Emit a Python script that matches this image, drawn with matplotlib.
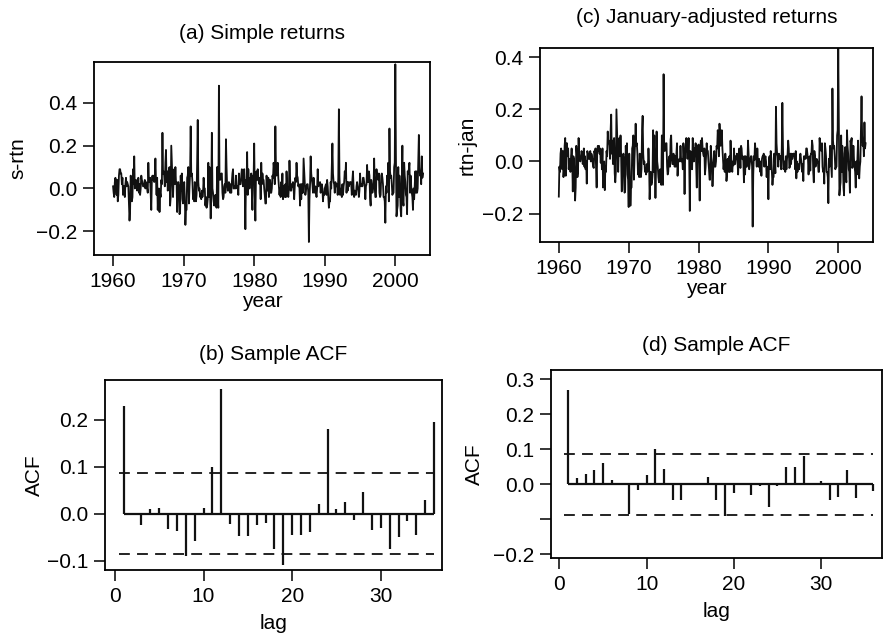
import numpy as np
import matplotlib
matplotlib.use("Agg")
import matplotlib.pyplot as plt

plt.rcParams['font.family'] = ['Liberation Sans', 'DejaVu Sans']

# monthly simple returns, Jan..Dec, one row per year
rtn_1960s = [
    0.01, -0.02, -0.04, 0.03, 0.05, 0.03, -0.03, 0.04, -0.06, -0.03, 0.06, 0.09,    # 1960
    0.09, 0.07, 0.07, 0.02, 0.05, -0.03, 0.01, 0.01, -0.04, 0.02, 0.05, 0.01,       # 1961
    0.03, 0.02, 0.01, -0.07, -0.15, -0.10, 0.06, 0.03, -0.06, -0.04, 0.09, 0.02,    # 1962
    0.15, 0.00, 0.02, 0.04, 0.03, -0.01, 0.00, 0.05, -0.02, 0.02, -0.03, 0.00,      # 1963
    0.06, 0.04, 0.03, 0.01, 0.01, 0.01, 0.04, 0.00, 0.03, 0.02, 0.00, -0.02,        # 1964
    0.12, 0.04, 0.03, 0.05, -0.03, -0.10, 0.04, 0.06, 0.04, 0.06, 0.03, 0.05,       # 1965
    0.14, 0.04, -0.03, 0.05, -0.10, -0.01, 0.00, -0.11, -0.02, -0.04, 0.04, 0.02,   # 1966
    0.26, 0.07, 0.08, 0.06, 0.01, 0.12, 0.18, 0.03, 0.08, -0.01, 0.02, 0.09,        # 1967
    0.10, -0.08, -0.04, 0.20, 0.12, 0.04, -0.04, 0.05, 0.09, 0.02, 0.10, 0.03,      # 1968
    0.03, -0.11, 0.02, 0.03, 0.01, -0.12, -0.11, 0.06, -0.01, 0.07, -0.05, -0.07,   # 1969
]
rtn_1970s = [
    -0.03, 0.03, -0.04, -0.17, -0.10, -0.10, 0.05, 0.06, 0.10, -0.07, 0.01, 0.07,  # 1970
    0.29, 0.06, 0.07, 0.03, -0.05, -0.02, -0.06, 0.03, -0.02, -0.06, -0.03, 0.12,   # 1971
    0.32, 0.03, -0.01, 0.00, -0.04, -0.03, -0.05, -0.01, -0.04, -0.02, 0.05, 0.00,  # 1972
    0.00, -0.08, -0.04, -0.09, -0.08, -0.05, 0.12, -0.04, 0.10, -0.01, -0.14, -0.03, # 1973
    0.26, 0.00, -0.02, -0.06, -0.08, -0.04, -0.03, -0.08, -0.09, 0.10, -0.05, -0.09, # 1974
    0.48, 0.05, 0.04, 0.05, 0.07, 0.07, -0.02, -0.05, -0.04, 0.01, 0.02, -0.02,     # 1975
    0.23, 0.10, 0.01, -0.01, -0.01, 0.03, 0.01, -0.02, 0.02, -0.02, 0.03, 0.07,     # 1976
    0.09, 0.00, 0.00, 0.01, 0.00, 0.06, 0.01, 0.00, 0.01, -0.03, 0.07, 0.02,        # 1977
    0.02, 0.02, 0.06, 0.09, 0.06, 0.01, 0.04, 0.09, 0.00, -0.19, 0.04, 0.01,        # 1978
    0.17, -0.03, 0.09, 0.03, 0.00, 0.05, 0.02, 0.07, -0.01, -0.10, 0.06, 0.05,      # 1979
]
rtn_1980s = [
    0.21, -0.03, -0.15, 0.05, 0.08, 0.04, 0.09, 0.05, 0.03, 0.02, 0.05, -0.05,      # 1980
    0.12, 0.02, 0.07, 0.04, 0.04, 0.00, -0.03, -0.07, -0.07, 0.06, 0.02, -0.01,     # 1981
    0.05, -0.04, 0.00, 0.04, -0.02, -0.02, 0.00, 0.06, 0.05, 0.12, 0.09, 0.02,      # 1982
    0.29, 0.10, 0.06, 0.08, 0.12, 0.05, 0.01, -0.03, 0.00, -0.04, 0.03, -0.01,      # 1983
    0.07, -0.05, 0.01, -0.02, -0.04, 0.02, -0.04, 0.08, 0.01, -0.02, -0.04, 0.00,   # 1984
    0.13, 0.05, -0.01, -0.01, 0.02, 0.01, 0.03, 0.00, -0.05, 0.01, 0.05, 0.03,      # 1985
    0.12, 0.06, 0.05, 0.01, 0.02, 0.00, -0.08, 0.02, -0.05, 0.02, -0.02, -0.02,     # 1986
    0.14, 0.08, 0.03, -0.03, -0.01, 0.01, 0.02, 0.02, -0.02, -0.25, -0.05, 0.02,    # 1987
    0.15, 0.07, 0.04, 0.02, -0.02, 0.05, 0.00, -0.02, 0.01, -0.02, -0.04, 0.00,     # 1988
    0.09, 0.01, 0.02, 0.02, 0.03, -0.02, 0.01, 0.02, 0.00, -0.06, -0.02, -0.03,     # 1989
]
rtn_1990s = [
    0.00, 0.01, 0.02, -0.03, 0.04, 0.01, -0.04, -0.09, -0.06, -0.06, 0.03, 0.00,    # 1990
    0.10, 0.21, 0.07, 0.03, 0.02, -0.02, 0.03, 0.02, 0.01, 0.02, -0.03, 0.05,       # 1991
    0.37, 0.06, -0.03, -0.02, 0.00, -0.04, 0.02, -0.03, 0.01, 0.03, 0.08, 0.05,     # 1992
    0.12, -0.02, 0.03, -0.01, 0.03, 0.01, 0.02, 0.03, 0.03, 0.02, -0.03, 0.04,      # 1993
    0.08, 0.00, -0.04, -0.01, -0.02, -0.03, 0.01, 0.03, 0.01, -0.01, -0.04, -0.01,  # 1994
    0.07, 0.02, 0.01, 0.02, 0.01, 0.05, 0.05, 0.03, 0.01, -0.05, 0.01, 0.02,        # 1995
    0.11, 0.03, 0.03, 0.08, 0.06, -0.04, -0.08, 0.04, 0.02, -0.02, 0.00, 0.01,      # 1996
    0.14, 0.00, -0.04, -0.04, 0.09, 0.05, 0.05, 0.04, 0.07, -0.02, -0.04, -0.03,    # 1997
    0.06, 0.07, 0.05, 0.02, -0.04, -0.04, -0.06, -0.16, 0.01, -0.02, 0.06, 0.02,    # 1998
    0.12, -0.06, 0.28, 0.08, 0.05, 0.06, 0.02, -0.03, -0.02, -0.02, 0.10, 0.12,     # 1999
]
rtn_2000s = [
    0.58, 0.15, -0.13, -0.10, -0.08, 0.10, -0.04, 0.06, 0.00, -0.10, -0.13, 0.03,  # 2000
    0.20, -0.06, -0.08, 0.12, 0.06, 0.03, -0.03, -0.04, -0.12, 0.08, 0.07, 0.09,    # 2001
    0.12, -0.02, 0.06, 0.01, -0.02, -0.04, -0.10, 0.00, -0.05, 0.01, 0.08, -0.02,   # 2002
    0.08, -0.02, 0.00, 0.12, 0.25, 0.10, 0.06, 0.08, 0.02, 0.15, 0.05, 0.07,        # 2003
]
jan_effect = 0.145  # January dummy coefficient removed in panel (c)

# sample ACF, lags 1..36
acf_rtn = [0.23, 0.00, -0.025, 0.01, 0.012, -0.033, -0.037, -0.09, -0.058, 0.012,
           0.10, 0.265, -0.022, -0.048, -0.048, -0.025, -0.02, -0.075, -0.11, -0.045,
           -0.045, -0.04, 0.02, 0.18, 0.01, 0.025, -0.013, 0.045, -0.035, -0.03,
           -0.075, -0.05, -0.015, -0.045, 0.03, 0.195]
acf_jan = [0.27, 0.017, 0.03, 0.04, 0.062, 0.012, 0.0, -0.085, -0.015, 0.028,
           0.10, 0.045, -0.045, -0.045, 0.0, 0.0, 0.02, -0.045, -0.09, -0.025,
           0.0, -0.03, -0.005, -0.065, -0.005, 0.05, 0.05, 0.08, 0.0, 0.01,
           -0.045, -0.035, 0.04, -0.04, 0.0, -0.02]
acf_bound = 0.087

rtn = np.array(rtn_1960s + rtn_1970s + rtn_1980s + rtn_1990s + rtn_2000s)
n = len(rtn)
t = 1960 + np.arange(n) / 12.0
is_jan = (np.arange(n) % 12 == 0)
rtn_jan = rtn - jan_effect * is_jan
lags = np.arange(1, len(acf_rtn) + 1)

fig = plt.figure(figsize=(8.91, 6.34), dpi=100)
fs = 15


def style(ax):
    ax.tick_params(direction='out', length=8, width=1.1, labelsize=fs, pad=4)
    for s in ax.spines.values():
        s.set_linewidth(1.3)


ax_a = fig.add_axes([0.1055, 0.598, 0.377, 0.304])
ax_a.plot(t, rtn, color='#111111', lw=1.3)
ax_a.set_xlim(1957.3, 2004.9)
ax_a.set_ylim(-0.31, 0.59)
ax_a.set_xticks([1960, 1970, 1980, 1990, 2000])
ax_a.set_yticks([-0.2, 0.0, 0.2, 0.4])
ax_a.set_yticklabels(['\u22120.2', '0.0', '0.2', '0.4'])
ax_a.set_ylabel('s-rtn', fontsize=fs, labelpad=6)
ax_a.set_xlabel('year', fontsize=fs, labelpad=1)
ax_a.set_title('(a) Simple returns', fontsize=fs, pad=17)
style(ax_a)

ax_c = fig.add_axes([0.606, 0.618, 0.374, 0.306])
ax_c.plot(t, rtn_jan, color='#111111', lw=1.3)
ax_c.set_xlim(1957.3, 2005.0)
ax_c.set_ylim(-0.31, 0.435)
ax_c.set_xticks([1960, 1970, 1980, 1990, 2000])
ax_c.set_yticks([-0.2, 0.0, 0.2, 0.4])
ax_c.set_yticklabels(['\u22120.2', '0.0', '0.2', '0.4'])
ax_c.set_ylabel('rtn-jan', fontsize=fs, labelpad=4)
ax_c.set_xlabel('year', fontsize=fs, labelpad=1)
ax_c.set_title('(c) January-adjusted returns', fontsize=fs, pad=18)
style(ax_c)

ax_b = fig.add_axes([0.118, 0.101, 0.378, 0.300])
ax_b.vlines(lags, 0, acf_rtn, color='#111111', lw=1.6)
ax_b.hlines(0, lags[0], lags[-1], color='#111111', lw=1.6)
ax_b.hlines([acf_bound, -acf_bound], 0.5, lags[-1], color='#111111', lw=1.3,
            linestyles=(0, (6, 4)))
ax_b.set_xlim(-1.1, 36.9)
ax_b.set_ylim(-0.12, 0.285)
ax_b.set_xticks([0, 10, 20, 30])
ax_b.set_yticks([-0.1, 0.0, 0.1, 0.2])
ax_b.set_yticklabels(['\u22120.1', '0.0', '0.1', '0.2'])
ax_b.set_ylabel('ACF', fontsize=fs, labelpad=2)
ax_b.set_xlabel('lag', fontsize=fs, labelpad=6)
ax_b.set_title('(b) Sample ACF', fontsize=fs, pad=14)
style(ax_b)

ax_d = fig.add_axes([0.618, 0.120, 0.372, 0.296])
ax_d.vlines(lags, 0, acf_jan, color='#111111', lw=1.6)
ax_d.hlines(0, lags[0], lags[-1], color='#111111', lw=1.6)
ax_d.hlines([acf_bound, -acf_bound], 0.5, lags[-1], color='#111111', lw=1.3,
            linestyles=(0, (6, 4)))
ax_d.set_xlim(-1.0, 37.0)
ax_d.set_ylim(-0.21, 0.326)
ax_d.set_xticks([0, 10, 20, 30])
ax_d.set_yticks([-0.2, -0.1, 0.0, 0.1, 0.2, 0.3])
ax_d.set_yticklabels(['\u22120.2', '', '0.0', '0.1', '0.2', '0.3'])
ax_d.set_ylabel('ACF', fontsize=fs, labelpad=6)
ax_d.set_xlabel('lag', fontsize=fs, labelpad=6)
ax_d.set_title('(d) Sample ACF', fontsize=fs, pad=14)
style(ax_d)

fig.savefig('out.png', dpi=100)
